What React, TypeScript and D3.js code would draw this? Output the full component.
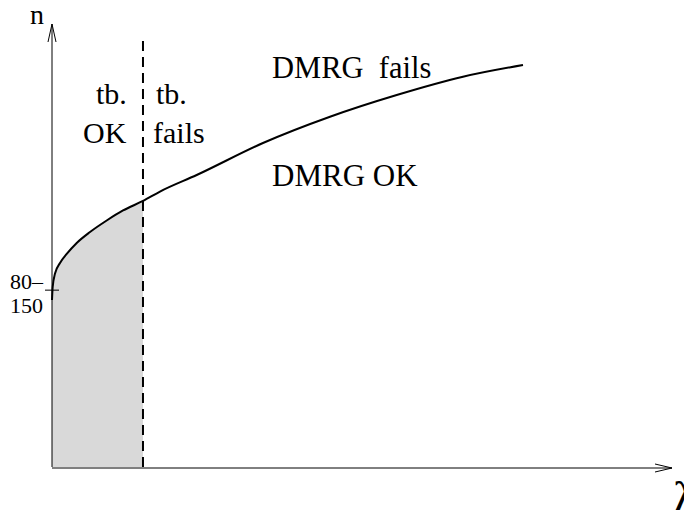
import React from "react";
import * as d3 from "d3";

const lambdaValues = [0, 0.11, 0.49, 1.30, 2.39, 4.01, 6.17, 8.88, 11.53, 14.77, 17.53, 23.49, 34.25, 45.13, 55.96, 66.72, 76.46];
const nValues = [36.54, 39.39, 42.34, 44.64, 46.61, 49.02, 51.42, 53.94, 56.13, 58.21, 60.28, 63.89, 70.90, 76.65, 81.40, 85.40, 87.96];
const tbBoundary = 14.77;
const tickN = 38.7;
const tickLabels = ["80\u2013", "150"];

const W = 684;
const H = 510;
const FONT = "'Liberation Serif', 'Times New Roman', Times, serif";

export default function App() {
  const x = d3.scaleLinear().domain([0, 100]).range([52, 668]);
  const y = d3.scaleLinear().domain([0, 100]).range([467, 10]);
  const pts = lambdaValues.map((l, i) => [l, nValues[i]] as [number, number]);
  const line = d3.line<[number, number]>().x(d => x(d[0])).y(d => y(d[1])).curve(d3.curveMonotoneX);
  const area = d3.area<[number, number]>().x(d => x(d[0])).y0(y(0)).y1(d => y(d[1])).curve(d3.curveMonotoneX);

  const x0 = x(0), y0 = y(0);
  const yTop = 24;
  const xEnd = 672;
  const xb = x(tbBoundary);

  return (
    <svg width={W} height={H} style={{ position: "fixed", left: 0, top: 0, background: "#fff" }} fontFamily={FONT}>
      <defs>
        <clipPath id="tbclip">
          <rect x={x0} y={0} width={xb - x0} height={H} />
        </clipPath>
      </defs>
      <rect width={W} height={H} fill="#fff" />
      <path d={area(pts) || ""} fill="#d9d9d9" stroke="none" clipPath="url(#tbclip)" />
      {/* axes */}
      <line x1={x0} y1={y0} x2={x0} y2={yTop} stroke="#000" strokeWidth={1} />
      <polyline points={`${x0 - 4},${yTop + 18} ${x0},${yTop} ${x0 + 4},${yTop + 18}`} fill="none" stroke="#000" strokeWidth={1} />
      <line x1={x0} y1={y0 + 1} x2={xEnd} y2={y0 + 1} stroke="#000" strokeWidth={1} />
      <polyline points={`${xEnd - 17},${y0 - 3} ${xEnd},${y0 + 1} ${xEnd - 17},${y0 + 5}`} fill="none" stroke="#000" strokeWidth={1} />
      {/* dashed boundary */}
      <line x1={xb} y1={y0} x2={xb} y2={36} stroke="#000" strokeWidth={2} strokeDasharray="10,6" />
      {/* curve */}
      <path d={line(pts) || ""} fill="none" stroke="#000" strokeWidth={2} />
      {/* tick */}
      <line x1={x0 - 7} y1={y(tickN)} x2={x0 + 7} y2={y(tickN)} stroke="#000" strokeWidth={1} />
      <text x={10} y={289} fontSize={22}>{tickLabels[0]}</text>
      <text x={10} y={313} fontSize={22}>{tickLabels[1]}</text>
      {/* labels */}
      <text x={30} y={24} fontSize={28}>n</text>
      <text x={673} y={514} fontSize={46}>λ</text>
      <text x={96} y={104} fontSize={30}>tb.</text>
      <text x={83} y={143} fontSize={30}>OK</text>
      <text x={156} y={104} fontSize={30}>tb.</text>
      <text x={153} y={143} fontSize={30}>fails</text>
      <text x={272} y={78} fontSize={30.5} xmlSpace="preserve">DMRG  fails</text>
      <text x={272} y={186} fontSize={31}>DMRG OK</text>
    </svg>
  );
}
